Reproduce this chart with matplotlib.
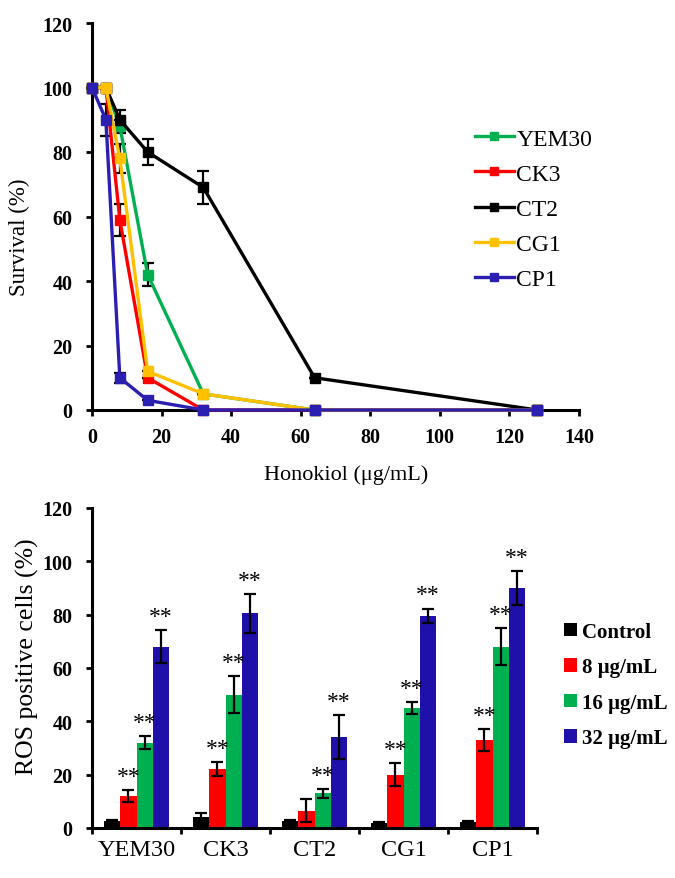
import matplotlib
matplotlib.use("Agg")
import matplotlib.pyplot as plt
from matplotlib.lines import Line2D
from matplotlib.patches import Patch

plt.rcParams['font.family'] = ['Liberation Serif', 'DejaVu Serif']

# ---------------- data: survival curves ----------------
doses = [0, 4, 8, 16, 32, 64, 128]
strains = ["YEM30", "CK3", "CT2", "CG1", "CP1"]
surv_yem30 = [100, 100, 88, 42, 5, 0, 0]
surv_ck3 = [100, 100, 59, 10, 0, 0, 0]
surv_ct2 = [100, 100, 90, 80, 69, 10, 0]
surv_cg1 = [100, 100, 78, 12, 5, 0, 0]
surv_cp1 = [100, 90, 10, 3, 0, 0, 0]
err_yem30 = [0, 0, 2, 3.5, 0, 0, 0]
err_ck3 = [0, 0, 5, 0, 0, 0, 0]
err_ct2 = [0, 0, 3, 4, 5, 0, 0]
err_cg1 = [0, 0, 4.5, 0, 0, 0, 0]
err_cp1 = [0, 5, 1.5, 0, 0, 0, 0]
line_colors = ["#00B050", "#FF0000", "#000000", "#FFC000", "#2A1FB0"]

# ---------------- data: ROS bars ----------------
groups = ["YEM30", "CK3", "CT2", "CG1", "CP1"]
treatments = ["Control", "8 \u03bcg/mL", "16 \u03bcg/mL", "32 \u03bcg/mL"]
ros_control = [2.5, 4, 2.5, 1.8, 2.2]
ros_8 = [12, 22, 6.5, 20, 33]
ros_16 = [32, 50, 13, 45, 68]
ros_32 = [68, 80.5, 34, 79.5, 90]
ros_err_control = [0.5, 1.5, 0.5, 0.5, 0.5]
ros_err_8 = [2.3, 2.6, 4.3, 4.2, 4]
ros_err_16 = [2.5, 7, 1.7, 2.2, 7]
ros_err_32 = [6.2, 7.2, 8.3, 2.8, 6.3]
significant = [
    [False, True, True, True],
    [False, True, True, True],
    [False, False, True, True],
    [False, True, True, True],
    [False, True, True, True],
]
bar_colors = ["#000000", "#FF0000", "#00B050", "#1F10AA"]

W, H = 675, 879
fig = plt.figure(figsize=(W / 100, H / 100), dpi=100)

def fx(px):
    return px / W

def fy(py):
    return 1 - py / H

# ---------------- top chart ----------------
ax1 = fig.add_axes([fx(92), fy(411), fx(579) - fx(92), fy(24) - fy(411)])
survs = [surv_yem30, surv_ck3, surv_ct2, surv_cg1, surv_cp1]
errs = [err_yem30, err_ck3, err_ct2, err_cg1, err_cp1]
handles = []
for name, s, e, c in zip(strains, survs, errs, line_colors):
    ax1.errorbar(doses, s, yerr=e, fmt='none', ecolor='black', elinewidth=1.6,
                 capsize=4, capthick=1.6, zorder=2, clip_on=False)
    ax1.plot(doses, s, '-s', color=c, lw=2.4, ms=7.5, zorder=3, clip_on=False)
    handles.append(Line2D([], [], color=c, lw=2.4, marker='s', ms=6))

ax1.set_xlim(0, 140)
ax1.set_ylim(0, 120)
ax1.set_xticks(range(0, 141, 20))
ax1.set_yticks(range(0, 121, 20))
for sp in ['top', 'right']:
    ax1.spines[sp].set_visible(False)
for sp in ['left', 'bottom']:
    ax1.spines[sp].set_linewidth(2.2)
ax1.tick_params(axis='both', direction='out', length=4, width=2, labelsize=14.5)
ax1.tick_params(axis='y', pad=10)
ax1.tick_params(axis='x', pad=8)
for lab in ax1.get_xticklabels() + ax1.get_yticklabels():
    lab.set_fontweight('bold')

fig.text(fx(19), fy(237), "Survival (%)", rotation=90, ha='center', va='center', fontsize=16.5)
fig.text(fx(346), fy(475), "Honokiol (\u03bcg/mL)", ha='center', va='center', fontsize=16)

leg1 = fig.legend(handles, strains, loc='upper left', bbox_to_anchor=(fx(475), fy(129)),
                  frameon=False, fontsize=17, handlelength=1.65, handletextpad=0.1,
                  labelspacing=0.58, borderpad=0, borderaxespad=0)

# ---------------- bottom chart ----------------
ax2 = fig.add_axes([fx(92), fy(829), fx(537) - fx(92), fy(509) - fy(829)])
bw = 0.18
vals = [ros_control, ros_8, ros_16, ros_32]
evals = [ros_err_control, ros_err_8, ros_err_16, ros_err_32]
xs = list(range(len(groups)))
for j, (v, e, c) in enumerate(zip(vals, evals, bar_colors)):
    pos = [x + (j - 1.5) * bw for x in xs]
    ax2.bar(pos, v, width=bw, color=c, yerr=e, zorder=2,
            error_kw=dict(ecolor='black', elinewidth=1.6, capsize=4.5, capthick=1.6))
    for i, x in enumerate(pos):
        if significant[i][j]:
            ax2.text(x, v[i] + e[i] + 1.2, "**", ha='center', va='bottom', fontsize=17)

ax2.set_xlim(-0.5, len(groups) - 0.5)
ax2.set_ylim(0, 120)
ax2.set_yticks(range(0, 121, 20))
ax2.set_xticks(xs)
ax2.set_xticklabels(groups, fontsize=17.5)
ax2.set_xticks([x - 0.5 for x in range(len(groups) + 1)], minor=True)
for sp in ['top', 'right']:
    ax2.spines[sp].set_visible(False)
for sp in ['left', 'bottom']:
    ax2.spines[sp].set_linewidth(2.2)
ax2.tick_params(axis='x', which='major', length=0, pad=8)
ax2.tick_params(axis='x', which='minor', length=4, width=2, direction='out')
ax2.tick_params(axis='y', direction='out', length=4, width=2, labelsize=14.5, pad=10)
for lab in ax2.get_yticklabels():
    lab.set_fontweight('bold')

fig.text(fx(27), fy(657), "ROS positive cells (%)", rotation=90, ha='center', va='center', fontsize=18.5)

bhandles = [Patch(facecolor=c, edgecolor='none') for c in bar_colors]
leg2 = fig.legend(bhandles, treatments, loc='upper left', bbox_to_anchor=(fx(564), fy(623)),
                  frameon=False, prop=dict(size=15, weight='bold'), handlelength=0.6,
                  handleheight=0.6, handletextpad=0.25, labelspacing=0.74,
                  borderpad=0, borderaxespad=0)

fig.savefig("out.png", dpi=100)
